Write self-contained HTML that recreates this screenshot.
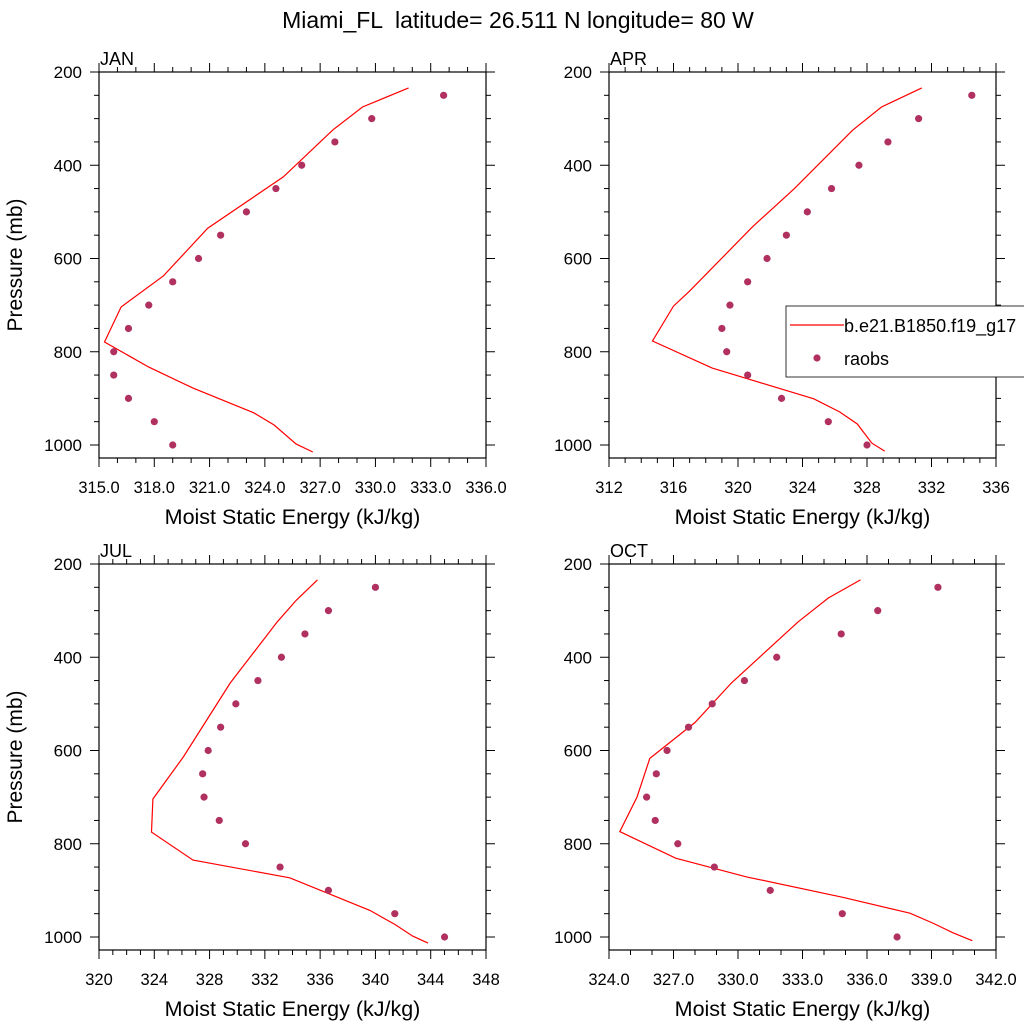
<!DOCTYPE html>
<html><head><meta charset="utf-8"><style>
body{margin:0;background:#fff}
svg text{font-family:"Liberation Sans",sans-serif;fill:#000;white-space:pre}
</style></head><body>
<svg id="c" width="1024" height="1024" xmlns="http://www.w3.org/2000/svg">
<text x="518" y="28" font-size="23" text-anchor="middle" xml:space="preserve">Miami_FL  latitude= 26.511 N longitude= 80 W</text>
</svg>
<script>
const janLineP=[234,275,324,425,535,637,704,779,833,878,931,957,998,1015];
const janLineV=[331.8,329.3,327.7,325.0,320.9,318.5,316.2,315.3,317.7,320.1,323.4,324.5,325.7,326.6];
const janObsV=[333.7,329.8,327.8,326.0,324.6,323.0,321.6,320.4,319.0,317.7,316.6,315.8,315.8,316.6,318.0,319.0];
const aprLineP=[234,275,325,450,532,670,702,777,835,901,929,955,996,1013];
const aprLineV=[331.4,328.9,327.1,323.5,320.9,317.0,316.0,314.7,318.4,324.7,326.3,327.4,328.3,329.1];
const aprObsV=[334.5,331.2,329.3,327.5,325.8,324.3,323.0,321.8,320.6,319.5,319.0,319.3,320.6,322.7,325.6,328.0];
const julLineP=[234,277,324,455,614,704,775,835,873,943,973,998,1013];
const julLineV=[335.8,334.3,332.9,329.5,326.1,323.9,323.8,326.8,333.8,339.6,341.4,342.7,343.8];
const julObsV=[340.0,336.6,334.9,333.2,331.5,329.9,328.8,327.9,327.5,327.6,328.7,330.6,333.1,336.6,341.4,345.0];
const octLineP=[234,273,324,455,540,617,700,774,831,871,915,949,971,991,1008];
const octLineV=[335.7,334.2,332.8,329.7,328.0,325.9,325.3,324.5,327.1,330.4,334.9,338.0,339.1,340.0,340.9];
const octObsV=[339.3,336.5,334.8,331.8,330.3,328.8,327.7,326.7,326.2,325.75,326.15,327.2,328.9,331.5,334.85,337.4];
const obsP=[250,300,350,400,450,500,550,600,650,700,750,800,850,900,950,1000];
const yTicks=[200,400,600,800,1000];

const svg=document.getElementById('c');
const NS='http://www.w3.org/2000/svg';
function mk(tag,attrs,parent){const e=document.createElementNS(NS,tag);for(const k in attrs)e.setAttribute(k,attrs[k]);(parent||svg).appendChild(e);return e;}

function panel(o){
  const g=mk('g',{});
  
  
  const L=o.x0,R=o.x0+387,T=o.y0,B=o.y0+386;
  const sx=v=>L+(v-o.xmin)/(o.xmax-o.xmin)*(R-L);
  const sy=p=>T+(p-200)/800*373;
  const f=mk('rect',{x:L,y:T,width:R-L,height:B-T,fill:'none',stroke:'#000','stroke-width':1.2},g);
  
  const t=mk('text',{x:L+1,y:T-7,'font-size':18},g);t.textContent=o.label;
  
  for(let p=200;p<=1000;p+=50){const y=sy(p),M=p%200==0,l=M?9:5;
    mk('line',{x1:L-l,y1:y,x2:L,y2:y,stroke:'#000'},g);mk('line',{x1:R,y1:y,x2:R+l,y2:y,stroke:'#000'},g);}
  yTicks.forEach(p=>{const tt=mk('text',{x:L-17,y:sy(p)+6,'font-size':17,'text-anchor':'end'},g);tt.textContent=p;
    });
  for(let v=o.xmin;v<=o.xmax+1e-6;v+=o.minor){const x=sx(v),M=Math.abs(((v-o.xmin)/o.major)-Math.round((v-o.xmin)/o.major))<1e-6,l=M?9:5;
    mk('line',{x1:x,y1:B,x2:x,y2:B+l,stroke:'#000'},g);mk('line',{x1:x,y1:T,x2:x,y2:T-l,stroke:'#000'},g);}
  for(let v=o.xmin;v<=o.xmax+1e-6;v+=o.major){const tt=mk('text',{x:sx(v),y:B+35,'font-size':16.5,'text-anchor':'middle'},g);tt.textContent=v.toFixed(o.dec);
    }
  const xt=mk('text',{x:(L+R)/2,y:B+66,'font-size':21.5,'text-anchor':'middle'},g);xt.textContent='Moist Static Energy (kJ/kg)';
  
  if(o.ytitle){const yt=mk('text',{x:0,y:0,'font-size':21,'text-anchor':'middle',transform:`translate(22,${(T+B)/2}) rotate(-90)`},g);yt.textContent='Pressure (mb)';
    }
  const pts=o.lp.map((p,i)=>sx(o.lv[i]).toFixed(1)+','+sy(p).toFixed(1)).join(' ');
  const pl=mk('polyline',{points:pts,fill:'none',stroke:'#ff0000','stroke-width':1.2},g);
  
  obsP.forEach((p,i)=>{const c=mk('circle',{cx:sx(o.ov[i]),cy:sy(p),r:3.6,fill:'#b03060'},g);
    });
}
panel({name:'jan',label:'JAN',x0:99,y0:72,xmin:315,xmax:336,major:3,minor:1,dec:1,lp:janLineP,lv:janLineV,ov:janObsV,ytitle:true});
panel({name:'apr',label:'APR',x0:609,y0:72,xmin:312,xmax:336,major:4,minor:1,dec:0,lp:aprLineP,lv:aprLineV,ov:aprObsV});
panel({name:'jul',label:'JUL',x0:99,y0:564,xmin:320,xmax:348,major:4,minor:1,dec:0,lp:julLineP,lv:julLineV,ov:julObsV,ytitle:true});
panel({name:'oct',label:'OCT',x0:609,y0:564,xmin:324,xmax:342,major:3,minor:1,dec:1,lp:octLineP,lv:octLineV,ov:octObsV});

const lg=mk('g',{});


mk('rect',{x:786,y:306,width:250,height:71,fill:'#fff',stroke:'#000','stroke-width':0.8},lg);
mk('line',{x1:790,y1:325,x2:844,y2:325,stroke:'#ff0000','stroke-width':1.2},lg);
const l1=mk('text',{x:844,y:332,'font-size':18},lg);l1.textContent='b.e21.B1850.f19_g17';


mk('circle',{cx:817,cy:358,r:3.6,fill:'#b03060'},lg);
const l2=mk('text',{x:844,y:365,'font-size':18},lg);l2.textContent='raobs';


</script>
</body></html>
